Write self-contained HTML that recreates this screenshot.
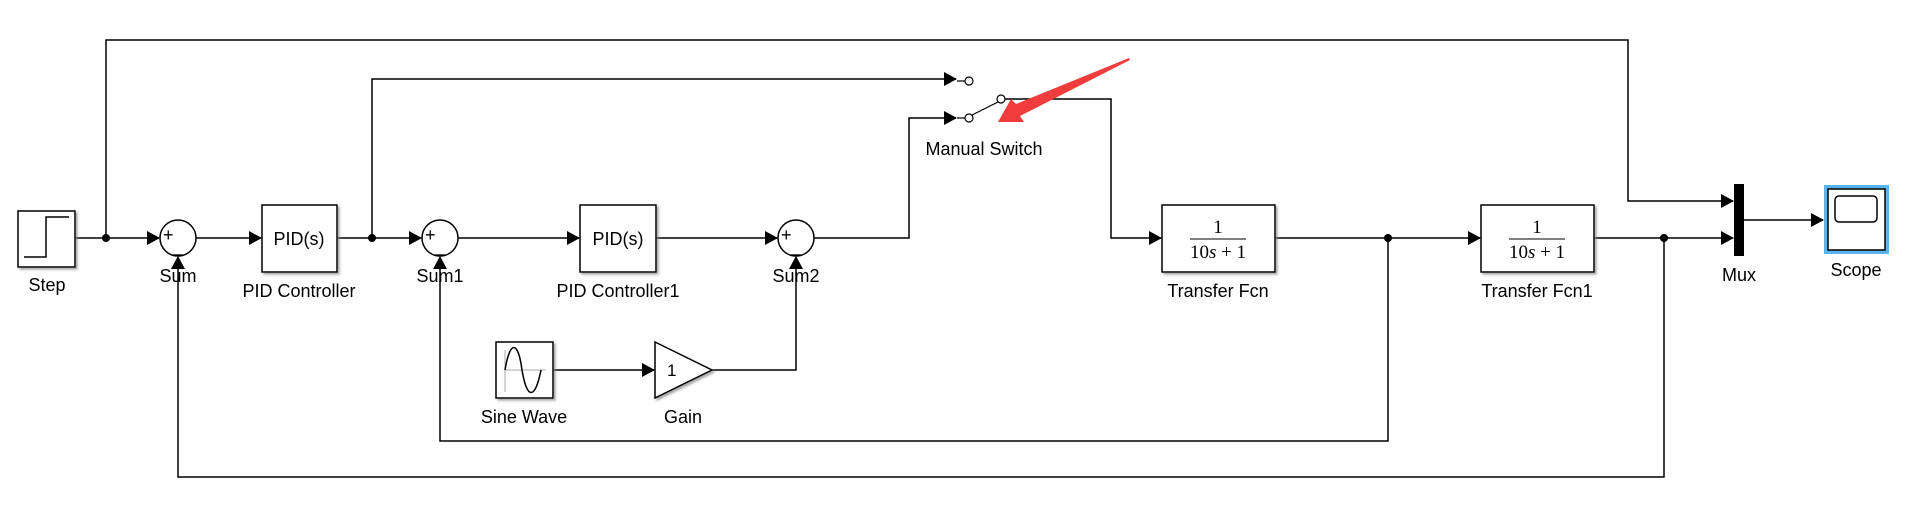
<!DOCTYPE html>
<html><head><meta charset="utf-8"><style>
html,body{margin:0;padding:0;background:#fff;}
svg{display:block;}
text{font-family:"Liberation Sans",Arial,sans-serif;font-size:18px;fill:#000;}
.m{font-family:"Liberation Serif",serif;font-size:19px;}
</style></head><body>
<svg width="1916" height="531" viewBox="0 0 1916 531" xmlns="http://www.w3.org/2000/svg">
<defs>
<marker id="a" markerWidth="13" markerHeight="14" refX="12" refY="7" orient="auto" markerUnits="userSpaceOnUse">
<path d="M0,0 L13,7 L0,14 Z" fill="#000"/></marker>
<filter id="sh"><feDropShadow dx="2" dy="2" stdDeviation="1" flood-color="#888" flood-opacity="0.7"/></filter>
</defs>
<g fill="none" stroke="#000" stroke-width="1.5">
<path d="M106,238 V40 H1628 V201 H1733" marker-end="url(#a)"/>
<path d="M75,238 H159" marker-end="url(#a)"/>
<path d="M196,238 H261" marker-end="url(#a)"/>
<path d="M337,238 H421" marker-end="url(#a)"/>
<path d="M372,238 V79 H956" marker-end="url(#a)"/>
<path d="M458,238 H579" marker-end="url(#a)"/>
<path d="M656,238 H777" marker-end="url(#a)"/>
<path d="M814,238 H909 V118 H956" marker-end="url(#a)"/>
<path d="M1005,99 H1111 V238 H1161" marker-end="url(#a)"/>
<path d="M1275,238 H1480" marker-end="url(#a)"/>
<path d="M1594,238 H1733" marker-end="url(#a)"/>
<path d="M1744,220 H1823" marker-end="url(#a)"/>
<path d="M1388,238 V441 H440 V257" marker-end="url(#a)"/>
<path d="M1664,238 V477 H178 V257" marker-end="url(#a)"/>
<path d="M553,370 H654" marker-end="url(#a)"/>
<path d="M712,370 H796 V257" marker-end="url(#a)"/>
</g>
<g fill="#000"><circle cx="106" cy="238" r="4"/><circle cx="372" cy="238" r="4"/><circle cx="1388" cy="238" r="4"/><circle cx="1664" cy="238" r="4"/></g>
<g fill="#fff" stroke="#000" stroke-width="1.5" filter="url(#sh)">
<rect x="18" y="211" width="57" height="56"/>
<rect x="262" y="205" width="75" height="67"/>
<rect x="580" y="205" width="76" height="67"/>
<rect x="1162" y="205" width="113" height="67"/>
<rect x="1481" y="205" width="113" height="67"/>
<rect x="496" y="342" width="57" height="56"/>
<path d="M655,342 L712,370 L655,398 Z"/>
</g>
<g fill="#fff" stroke="#000" stroke-width="1.5">
<circle cx="178" cy="238" r="18"/><circle cx="440" cy="238" r="18"/><circle cx="796" cy="238" r="18"/>
</g>
<path d="M24,257 H46 V217 H69" fill="none" stroke="#000" stroke-width="1.5"/>
<path d="M505,350 V392 M505,370 H546" stroke="#aaa" stroke-width="1"/>
<path d="M505,370 C510,340 518,340 522,370 C527,400 535,400 541,370" fill="none" stroke="#000" stroke-width="1.5"/>
<g style="font-size:14px">
<text x="163" y="241">+</text><text x="173" y="252">_</text>
<text x="425" y="241">+</text><text x="435" y="252">_</text>
<text x="781" y="241">+</text><text x="791" y="252">_</text>
</g>
<text x="299" y="245" text-anchor="middle">PID(s)</text>
<text x="618" y="245" text-anchor="middle">PID(s)</text>
<text x="667" y="376" style="font-size:17px">1</text>
<text class="m" x="1218" y="233" text-anchor="middle">1</text>
<line x1="1190" y1="239" x2="1246" y2="239" stroke="#000" stroke-width="1"/>
<text class="m" x="1218" y="258" text-anchor="middle">10<tspan font-style="italic">s</tspan> + 1</text>
<text class="m" x="1537" y="233" text-anchor="middle">1</text>
<line x1="1509" y1="239" x2="1565" y2="239" stroke="#000" stroke-width="1"/>
<text class="m" x="1537" y="258" text-anchor="middle">10<tspan font-style="italic">s</tspan> + 1</text>
<g fill="#fff" stroke="#000" stroke-width="1.2">
<line x1="957" y1="81" x2="965" y2="81"/><line x1="957" y1="118" x2="965" y2="118"/>
<circle cx="969" cy="81" r="4"/><circle cx="969" cy="118" r="4"/>
<line x1="972" y1="115" x2="998" y2="102"/>
<circle cx="1001" cy="99" r="4"/>
</g>
<rect x="1734" y="184" width="10" height="72" fill="#000"/>
<rect x="1824" y="185" width="65" height="69" fill="#5ab4f0"/>
<rect x="1828" y="189" width="57" height="61" fill="#fff" stroke="#000" stroke-width="1.5"/>
<rect x="1835" y="196" width="42" height="26" rx="4" fill="#fff" stroke="#000" stroke-width="1.5"/>
<path d="M1129,58 L1016,104 L1011,99 L998,122 L1024,122 L1020,116 L1130,60 Z" fill="#f03c3c"/>
<text x="47" y="291" text-anchor="middle">Step</text>
<text x="178" y="282" text-anchor="middle">Sum</text>
<text x="299" y="297" text-anchor="middle">PID Controller</text>
<text x="440" y="282" text-anchor="middle">Sum1</text>
<text x="618" y="297" text-anchor="middle">PID Controller1</text>
<text x="796" y="282" text-anchor="middle">Sum2</text>
<text x="984" y="155" text-anchor="middle">Manual Switch</text>
<text x="1218" y="297" text-anchor="middle">Transfer Fcn</text>
<text x="1537" y="297" text-anchor="middle">Transfer Fcn1</text>
<text x="1739" y="281" text-anchor="middle">Mux</text>
<text x="1856" y="276" text-anchor="middle">Scope</text>
<text x="524" y="423" text-anchor="middle">Sine Wave</text>
<text x="683" y="423" text-anchor="middle">Gain</text>
</svg>
</body></html>
